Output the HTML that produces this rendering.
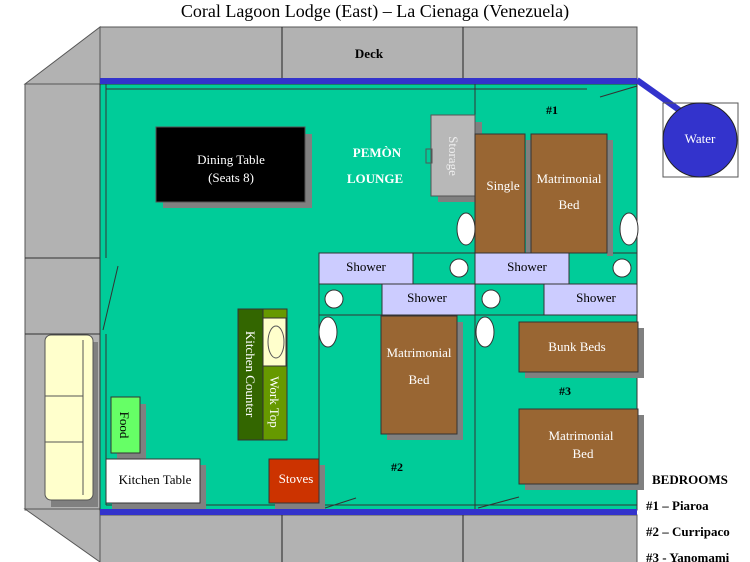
<!DOCTYPE html>
<html><head><meta charset="utf-8"><style>body{margin:0;background:#fff}svg{display:block}</style></head><body>
<svg width="750" height="562" viewBox="0 0 750 562" xmlns="http://www.w3.org/2000/svg" font-family="Liberation Serif, serif">
<text x="375" y="17" font-size="18" text-anchor="middle">Coral Lagoon Lodge (East) – La Cienaga (Venezuela)</text>
<!-- deck -->
<rect x="100" y="27" width="537" height="52" fill="#b2b2b2" stroke="#555"/>
<line x1="282" y1="27" x2="282" y2="79" stroke="#222"/>
<line x1="463" y1="27" x2="463" y2="79" stroke="#222"/>
<text x="369" y="58" font-size="13" font-weight="bold" text-anchor="middle">Deck</text>
<polygon points="25,84 100,27 100,84" fill="#b2b2b2" stroke="#555"/>
<rect x="25" y="84" width="75" height="426" fill="#b2b2b2" stroke="#555"/>
<line x1="25" y1="258" x2="106" y2="258" stroke="#333"/>
<line x1="25" y1="334" x2="106" y2="334" stroke="#333"/>
<polygon points="25,509 100,562 100,509" fill="#b2b2b2" stroke="#555"/>
<rect x="100" y="515" width="537" height="50" fill="#b2b2b2" stroke="#555"/>
<line x1="282" y1="515" x2="282" y2="562" stroke="#222"/>
<line x1="463" y1="515" x2="463" y2="562" stroke="#222"/>
<!-- floor -->
<rect x="100" y="84" width="537" height="426" fill="#00cc99" stroke="#333"/>
<rect x="100" y="78" width="537" height="6" fill="#3333cc"/>
<rect x="100" y="509" width="537" height="6" fill="#3333cc"/>
<line x1="106" y1="84" x2="106" y2="258" stroke="#333"/>
<line x1="106" y1="334" x2="106" y2="505" stroke="#333"/>
<line x1="106" y1="89" x2="587" y2="89" stroke="#333"/>
<line x1="106" y1="505" x2="637" y2="505" stroke="#333"/>
<line x1="118" y1="266" x2="103" y2="330" stroke="#333"/>
<line x1="600" y1="97" x2="637" y2="86" stroke="#333"/>
<line x1="325" y1="508" x2="356" y2="498" stroke="#333"/>
<line x1="478" y1="508" x2="519" y2="497" stroke="#333"/>
<line x1="475" y1="84" x2="475" y2="509" stroke="#333"/>
<line x1="319" y1="253" x2="319" y2="509" stroke="#333"/>
<line x1="319" y1="253" x2="637" y2="253" stroke="#333"/>
<line x1="319" y1="284" x2="637" y2="284" stroke="#333"/>
<line x1="319" y1="315" x2="637" y2="315" stroke="#333"/>
<!-- water -->
<line x1="637" y1="80" x2="682" y2="112" stroke="#3333cc" stroke-width="6"/>
<rect x="663" y="103" width="75" height="74" fill="none" stroke="#555"/>
<circle cx="700" cy="140" r="37" fill="#3333cc" stroke="#222"/>
<text x="700" y="143" font-size="13" fill="#fff" text-anchor="middle">Water</text>
<!-- dining -->
<rect x="163" y="134" width="149" height="74" fill="#808080"/>
<rect x="156" y="127" width="149" height="75" fill="#000" stroke="#555"/>
<text x="231" y="164" font-size="13" fill="#fff" text-anchor="middle">Dining Table</text>
<text x="231" y="182" font-size="13" fill="#fff" text-anchor="middle">(Seats 8)</text>
<text x="377" y="157" font-size="13" font-weight="bold" fill="#fff" text-anchor="middle">PEMÒN</text>
<text x="375" y="183" font-size="13" font-weight="bold" fill="#fff" text-anchor="middle">LOUNGE</text>
<!-- storage -->
<rect x="438" y="122" width="44" height="80" fill="#808080"/>
<rect x="431" y="115" width="44" height="81" fill="#b8b8b8" stroke="#555"/>
<rect x="426" y="149" width="6" height="14" fill="none" stroke="#555"/>
<text transform="translate(449,156) rotate(90)" font-size="13" fill="#eee" text-anchor="middle">Storage</text>
<!-- room 1 beds -->
<rect x="526" y="140" width="6" height="113" fill="#808080"/>
<rect x="475" y="134" width="50" height="119" fill="#996633" stroke="#333"/>
<rect x="607" y="140" width="6" height="116" fill="#808080"/>
<rect x="531" y="134" width="76" height="119" fill="#996633" stroke="#333"/>
<text x="503" y="190" font-size="13" fill="#fff" text-anchor="middle">Single</text>
<text x="569" y="183" font-size="13" fill="#fff" text-anchor="middle">Matrimonial</text>
<text x="569" y="209" font-size="13" fill="#fff" text-anchor="middle">Bed</text>
<text x="552" y="114" font-size="12" font-weight="bold" text-anchor="middle">#1</text>
<ellipse cx="466" cy="229" rx="9" ry="16" fill="#fff" stroke="#333"/>
<ellipse cx="629" cy="229" rx="9" ry="16" fill="#fff" stroke="#333"/>
<!-- showers -->
<rect x="319" y="253" width="94" height="31" fill="#ccccff" stroke="#333"/>
<text x="366" y="271" font-size="13" text-anchor="middle">Shower</text>
<circle cx="459" cy="268" r="9" fill="#fff" stroke="#333"/>
<rect x="475" y="253" width="94" height="31" fill="#ccccff" stroke="#333"/>
<text x="527" y="271" font-size="13" text-anchor="middle">Shower</text>
<circle cx="622" cy="268" r="9" fill="#fff" stroke="#333"/>
<circle cx="334" cy="299" r="9" fill="#fff" stroke="#333"/>
<rect x="382" y="284" width="93" height="31" fill="#ccccff" stroke="#333"/>
<text x="427" y="302" font-size="13" text-anchor="middle">Shower</text>
<circle cx="491" cy="299" r="9" fill="#fff" stroke="#333"/>
<rect x="544" y="284" width="93" height="31" fill="#ccccff" stroke="#333"/>
<text x="596" y="302" font-size="13" text-anchor="middle">Shower</text>
<ellipse cx="485" cy="332" rx="9" ry="15" fill="#fff" stroke="#333"/>
<ellipse cx="328" cy="332" rx="9" ry="15" fill="#fff" stroke="#333"/>
<!-- room 2 -->
<rect x="387" y="322" width="76" height="118" fill="#808080"/>
<rect x="381" y="316" width="76" height="118" fill="#996633" stroke="#333"/>
<text x="419" y="357" font-size="13" fill="#fff" text-anchor="middle">Matrimonial</text>
<text x="419" y="384" font-size="13" fill="#fff" text-anchor="middle">Bed</text>
<text x="397" y="471" font-size="12" font-weight="bold" text-anchor="middle">#2</text>
<!-- room 3 -->
<rect x="525" y="328" width="119" height="50" fill="#808080"/>
<rect x="519" y="322" width="119" height="50" fill="#996633" stroke="#333"/>
<text x="577" y="351" font-size="13" fill="#fff" text-anchor="middle">Bunk Beds</text>
<text x="565" y="395" font-size="12" font-weight="bold" text-anchor="middle">#3</text>
<rect x="525" y="415" width="119" height="75" fill="#808080"/>
<rect x="519" y="409" width="119" height="75" fill="#996633" stroke="#333"/>
<text x="581" y="440" font-size="13" fill="#fff" text-anchor="middle">Matrimonial</text>
<text x="583" y="458" font-size="13" fill="#fff" text-anchor="middle">Bed</text>
<!-- kitchen -->
<rect x="238" y="309" width="25" height="131" fill="#336600" stroke="#333"/>
<rect x="263" y="309" width="24" height="131" fill="#669900" stroke="#333"/>
<rect x="263" y="318" width="23" height="48" fill="#ffffcc" stroke="#333"/>
<ellipse cx="276" cy="342" rx="8" ry="16" fill="none" stroke="#555"/>
<text transform="translate(246,374) rotate(90)" font-size="13" fill="#fff" text-anchor="middle">Kitchen Counter</text>
<text transform="translate(270,402) rotate(90)" font-size="13" fill="#fff" text-anchor="middle">Work Top</text>
<rect x="117" y="404" width="29" height="56" fill="#808080"/>
<rect x="111" y="397" width="29" height="56" fill="#66ff66" stroke="#333"/>
<text transform="translate(120,425) rotate(90)" font-size="13" text-anchor="middle">Food</text>
<rect x="112" y="465" width="94" height="44" fill="#808080"/>
<rect x="106" y="459" width="94" height="44" fill="#fff" stroke="#333"/>
<text x="155" y="484" font-size="13" text-anchor="middle">Kitchen Table</text>
<rect x="275" y="465" width="50" height="44" fill="#808080"/>
<rect x="269" y="459" width="50" height="44" fill="#cc3300" stroke="#333"/>
<text x="296" y="483" font-size="13" fill="#fff" text-anchor="middle">Stoves</text>
<!-- sofa -->
<rect x="51" y="342" width="47" height="165" fill="#808080"/>
<rect x="45" y="335" width="48" height="165" rx="6" fill="#ffffcc" stroke="#555"/>
<line x1="83" y1="340" x2="83" y2="495" stroke="#555"/>
<line x1="45" y1="396" x2="83" y2="396" stroke="#555"/>
<line x1="45" y1="442" x2="83" y2="442" stroke="#555"/>
<!-- legend -->
<g font-size="13" font-weight="bold">
<text x="652" y="484">BEDROOMS</text>
<text x="646" y="510">#1 – Piaroa</text>
<text x="646" y="536">#2 – Curripaco</text>
<text x="646" y="562">#3 - Yanomami</text>
</g>
</svg>
</body></html>
